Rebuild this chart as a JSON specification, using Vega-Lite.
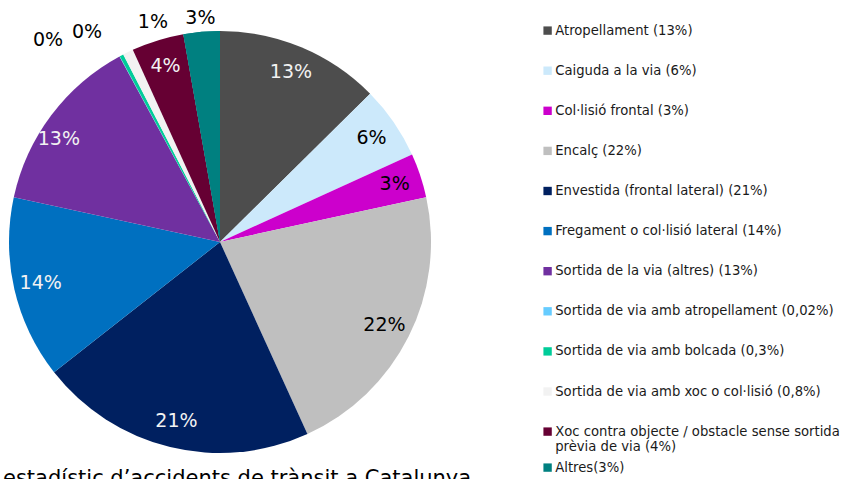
{
  "$schema": "https://vega.github.io/schema/vega-lite/v6.json",
  "width": 440,
  "height": 474,
  "autosize": {"type": "none"},
  "padding": {"left": 0, "top": 5, "right": 405, "bottom": 0},
  "background": "white",
  "config": {"view": {"stroke": null}, "font": "DejaVu Sans"},
  "title": {
    "text": "estadístic d’accidents de trànsit a Catalunya",
    "orient": "bottom",
    "anchor": "start",
    "frame": "group",
    "offset": -11,
    "dx": 3,
    "fontSize": 21,
    "fontWeight": "normal",
    "font": "DejaVu Sans",
    "color": "#000000"
  },
  "data": {
    "values": [
      {"i": 1, "cat": "Atropellament (13%)", "v": 12.6, "pct": "13%"},
      {"i": 2, "cat": "Caiguda a la via (6%)", "v": 5.6, "pct": "6%"},
      {"i": 3, "cat": "Col·lisió frontal (3%)", "v": 3.4, "pct": "3%"},
      {"i": 4, "cat": "Encalç (22%)", "v": 21.6, "pct": "22%"},
      {"i": 5, "cat": "Envestida (frontal lateral) (21%)", "v": 21.2, "pct": "21%"},
      {"i": 6, "cat": "Fregament o col·lisió lateral (14%)", "v": 14.0, "pct": "14%"},
      {"i": 7, "cat": "Sortida de la via (altres) (13%)", "v": 13.7, "pct": "13%"},
      {"i": 8, "cat": "Sortida de via amb atropellament (0,02%)", "v": 0.02, "pct": "0%"},
      {"i": 9, "cat": "Sortida de via amb bolcada (0,3%)", "v": 0.3, "pct": "0%"},
      {"i": 10, "cat": "Sortida de via amb xoc o col·lisió (0,8%)", "v": 0.8, "pct": "1%"},
      {"i": 11, "cat": "Xoc contra objecte / obstacle sense sortida prèvia de via (4%)", "v": 4.0, "pct": "4%"},
      {"i": 12, "cat": "Altres(3%)", "v": 2.78, "pct": "3%"}
    ]
  },
  "encoding": {
    "theta": {"field": "v", "type": "quantitative", "stack": true},
    "order": {"field": "i", "type": "quantitative"}
  },
  "layer": [
    {
      "mark": {"type": "arc", "outerRadius": 211},
      "encoding": {
        "color": {
          "field": "cat",
          "type": "nominal",
          "sort": null,
          "scale": {
            "domain": [
              "Atropellament (13%)",
              "Caiguda a la via (6%)",
              "Col·lisió frontal (3%)",
              "Encalç (22%)",
              "Envestida (frontal lateral) (21%)",
              "Fregament o col·lisió lateral (14%)",
              "Sortida de la via (altres) (13%)",
              "Sortida de via amb atropellament (0,02%)",
              "Sortida de via amb bolcada (0,3%)",
              "Sortida de via amb xoc o col·lisió (0,8%)",
              "Xoc contra objecte / obstacle sense sortida prèvia de via (4%)",
              "Altres(3%)"
            ],
            "range": ["#4d4d4d", "#cce9fb", "#cc00cc", "#bfbfbf", "#002060", "#0070c0", "#7030a0", "#66ccff", "#00cc99", "#f2f2f2", "#660033", "#008080"]
          },
          "legend": {
            "orient": "none",
            "legendX": 541,
            "legendY": 19,
            "title": null,
            "padding": 0,
            "values": [
              "Atropellament (13%)",
              "Caiguda a la via (6%)",
              "Col·lisió frontal (3%)",
              "Encalç (22%)",
              "Envestida (frontal lateral) (21%)",
              "Fregament o col·lisió lateral (14%)",
              "Sortida de la via (altres) (13%)",
              "Sortida de via amb atropellament (0,02%)",
              "Sortida de via amb bolcada (0,3%)",
              "Sortida de via amb xoc o col·lisió (0,8%)",
              "Xoc contra objecte / obstacle sense sortida prèvia de via (4%)"
            ],
            "symbolType": "square",
            "symbolSize": 70,
            "symbolStrokeWidth": 0,
            "labelFont": "DejaVu Sans",
            "labelFontSize": 13.2,
            "labelColor": "#1a1a1a",
            "labelOffset": 1,
            "labelLimit": 400,
            "rowPadding": 26.1,
            "labelExpr": "indexof(datum.label, 'Xoc contra') == 0 ? ['Xoc contra objecte / obstacle sense sortida', 'prèvia de via (4%)'] : datum.label"
          }
        }
      }
    },
    {
      "mark": {"type": "arc", "outerRadius": 211},
      "encoding": {
        "fill": {
          "condition": {
            "test": "datum.i == 12",
            "field": "cat",
            "type": "nominal",
            "scale": {"domain": ["Altres(3%)"], "range": ["#008080"]},
            "legend": {
              "orient": "none",
              "legendX": 541,
              "legendY": 456,
              "title": null,
              "padding": 0,
              "symbolType": "square",
              "symbolSize": 70,
              "symbolStrokeWidth": 0,
              "symbolOpacity": 1,
              "labelFont": "DejaVu Sans",
              "labelFontSize": 13.2,
              "labelColor": "#1a1a1a",
              "labelOffset": 1,
              "labelLimit": 400
            }
          },
          "value": "transparent"
        }
      }
    },
    {
      "mark": {"type": "text", "radius": 184, "fontSize": 19, "font": "DejaVu Sans"},
      "encoding": {
        "text": {"condition": {"test": "datum.v < 2 || datum.i == 12 || datum.i == 7", "value": ""}, "field": "pct", "type": "nominal"},
        "color": {"condition": {"test": "datum.i == 2 || datum.i == 3 || datum.i == 4", "value": "#000000"}, "value": "#f2f2f2"}
      }
    },
    {
      "mark": {"type": "text", "radius": 184, "fontSize": 19, "font": "DejaVu Sans", "color": "#f2f2f2", "dx": -14, "dy": 7},
      "encoding": {
        "text": {"condition": {"test": "datum.i != 7", "value": ""}, "field": "pct", "type": "nominal"}
      }
    },
    {
      "mark": {"type": "text", "radius": 225, "fontSize": 19, "font": "DejaVu Sans", "color": "#000000"},
      "encoding": {
        "text": {"condition": {"test": "datum.i != 12", "value": ""}, "field": "pct", "type": "nominal"}
      }
    },
    {
      "mark": {"type": "text", "radius": 225, "fontSize": 19, "font": "DejaVu Sans", "color": "#000000", "dx": 31, "dy": -18},
      "encoding": {
        "text": {"condition": {"test": "datum.i != 10", "value": ""}, "field": "pct", "type": "nominal"}
      }
    },
    {
      "mark": {"type": "text", "radius": 225, "fontSize": 19, "font": "DejaVu Sans", "color": "#000000", "dx": -28, "dy": -11},
      "encoding": {
        "text": {"condition": {"test": "datum.i != 9", "value": ""}, "field": "pct", "type": "nominal"}
      }
    },
    {
      "mark": {"type": "text", "radius": 225, "fontSize": 19, "font": "DejaVu Sans", "color": "#000000", "dx": -65, "dy": -4},
      "encoding": {
        "text": {"condition": {"test": "datum.i != 8", "value": ""}, "field": "pct", "type": "nominal"}
      }
    }
  ]
}
